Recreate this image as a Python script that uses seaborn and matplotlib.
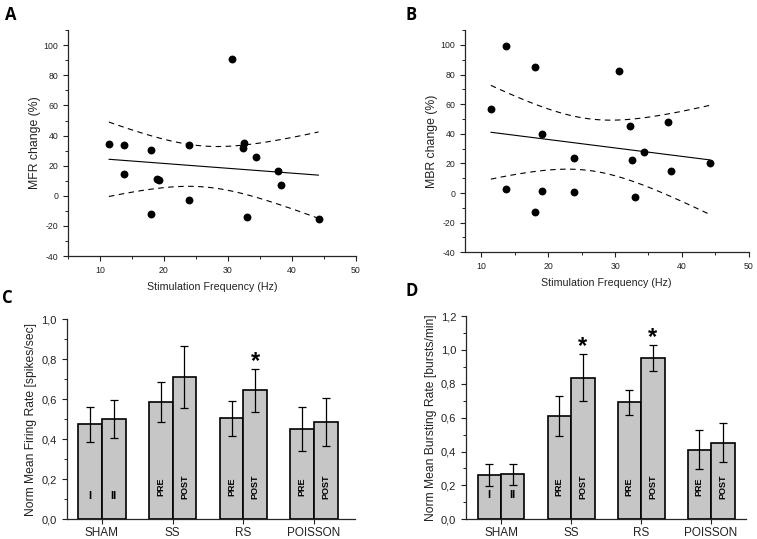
import numpy as np
import pandas as pd
import matplotlib
matplotlib.use("Agg")
import matplotlib.pyplot as plt
from matplotlib.ticker import MultipleLocator, FuncFormatter
import seaborn as sns

# ---------------- data ----------------
freq_a = [11.4, 13.7, 13.7, 18.0, 18.0, 19.0, 19.2, 24.0, 24.0, 30.7, 32.4, 32.6, 33.0, 34.4, 37.9, 38.4, 44.2]
mfr_change = [34.4, 34.0, 14.7, 30.4, -12.3, 10.9, 10.3, 34.0, -3.0, 90.9, 32.0, 35.3, -14.3, 26.0, 16.7, 7.2, -15.4]

freq_b = [11.4, 13.6, 13.6, 18.0, 18.0, 19.0, 19.1, 23.9, 23.9, 30.6, 32.3, 32.6, 33.0, 34.4, 37.9, 38.4, 44.2]
mbr_change = [56.6, 99.3, 2.8, 84.9, -13.0, 40.1, 1.4, 23.9, 0.5, 82.7, 45.5, 22.6, -2.9, 27.5, 48.2, 15.1, 20.3]

groups = ["SHAM", "SS", "RS", "POISSON"]
inner_first = ["I", "PRE", "PRE", "PRE"]
inner_second = ["II", "POST", "POST", "POST"]

mfr_first = [0.474, 0.587, 0.504, 0.451]
mfr_second = [0.501, 0.710, 0.644, 0.488]
mfr_first_err = [0.087, 0.101, 0.087, 0.112]
mfr_second_err = [0.094, 0.155, 0.109, 0.120]
mfr_star = [False, False, True, False]

mbr_first = [0.262, 0.610, 0.690, 0.412]
mbr_second = [0.266, 0.836, 0.951, 0.453]
mbr_first_err = [0.063, 0.117, 0.074, 0.114]
mbr_second_err = [0.063, 0.139, 0.077, 0.113]
mbr_star = [False, True, True, False]

# ---------------- style ----------------
sns.set_style("ticks")
plt.rcParams["font.family"] = ["Liberation Sans", "DejaVu Sans"]
plt.rcParams["axes.linewidth"] = 0.9
plt.rcParams["axes.unicode_minus"] = False
plt.rcParams["xtick.direction"] = "out"
plt.rcParams["ytick.direction"] = "out"

TXT = "#222222"
fig = plt.figure(figsize=(7.57, 5.39), dpi=100)

comma = FuncFormatter(lambda v, p: f"{v:.1f}".replace(".", ","))


def style_axes(ax, tick_fs):
    sns.despine(ax=ax)
    ax.tick_params(which="major", length=3.5, width=0.8, labelsize=tick_fs,
                   colors="#222222", labelcolor=TXT)
    ax.tick_params(which="minor", length=2, width=0.7, colors="#222222")


def scatter_panel(ax, x, y, ylabel, xlim):
    df = pd.DataFrame({"x": x, "y": y})
    sns.scatterplot(data=df, x="x", y="y", ax=ax, color="black", s=32,
                    edgecolor="black", linewidth=0, zorder=3)
    # linear fit with 95% confidence band
    xa, ya = np.asarray(x), np.asarray(y)
    n = len(xa)
    b, a = np.polyfit(xa, ya, 1)
    xs = np.linspace(xa.min(), xa.max(), 100)
    yhat = a + b * xs
    resid = ya - (a + b * xa)
    s = np.sqrt(np.sum(resid ** 2) / (n - 2))
    sxx = np.sum((xa - xa.mean()) ** 2)
    tval = 2.131
    half = tval * s * np.sqrt(1.0 / n + (xs - xa.mean()) ** 2 / sxx)
    fit = pd.DataFrame({"x": xs, "fit": yhat, "lo": yhat - half, "hi": yhat + half})
    sns.lineplot(data=fit, x="x", y="fit", ax=ax, color="black", lw=0.8)
    sns.lineplot(data=fit, x="x", y="lo", ax=ax, color="black", lw=0.8, linestyle=(0, (5, 4)))
    sns.lineplot(data=fit, x="x", y="hi", ax=ax, color="black", lw=0.8, linestyle=(0, (5, 4)))
    ax.set_xlim(*xlim)
    ax.set_ylim(-40, 110)
    ax.xaxis.set_major_locator(MultipleLocator(10))
    ax.xaxis.set_minor_locator(MultipleLocator(5))
    ax.yaxis.set_major_locator(MultipleLocator(20))
    ax.yaxis.set_minor_locator(MultipleLocator(10))
    ax.set_xlabel("Stimulation Frequency (Hz)", fontsize=7.7, color=TXT, labelpad=5)
    ax.set_ylabel(ylabel, fontsize=8.8, color=TXT, labelpad=2)
    style_axes(ax, 6.3)


def bar_panel(ax, first, second, ferr, serr, stars, ylabel, ylim, xlim):
    df = pd.DataFrame({
        "group": groups * 2,
        "phase": ["first"] * 4 + ["second"] * 4,
        "value": list(first) + list(second),
    })
    sns.barplot(data=df, x="group", y="value", hue="phase", order=groups,
                hue_order=["first", "second"], palette=["#c6c6c6", "#c6c6c6"],
                edgecolor="black", linewidth=1.2, width=0.67, errorbar=None,
                legend=False, ax=ax, saturation=1)
    errs = [ferr, serr]
    inner = [inner_first, inner_second]
    bar_conts = list(ax.containers)
    for k, cont in enumerate(bar_conts):
        for i, patch in enumerate(cont.patches):
            cx = patch.get_x() + patch.get_width() / 2
            h = patch.get_height()
            ax.errorbar(cx, h, yerr=errs[k][i], color="black", lw=0.9,
                        capsize=2.6, capthick=0.9, zorder=4)
            lab = inner[k][i]
            if len(lab) > 2:
                ax.text(cx, 0.162 * ylim[1], lab, rotation=90, ha="center", va="center",
                        fontsize=6.5, fontweight="bold", color="black")
            else:
                ax.text(cx, 0.117 * ylim[1], lab, ha="center", va="center",
                        fontsize=8, fontweight="bold", color="black")
            if k == 1 and stars[i]:
                ax.annotate("*", (cx, h + errs[k][i]), xytext=(0, -3),
                            textcoords="offset points", ha="center", va="bottom",
                            fontsize=17, fontweight="bold", color="black")
    ax.set_ylim(*ylim)
    ax.set_xlim(*xlim)
    ax.yaxis.set_major_locator(MultipleLocator(0.2))
    ax.yaxis.set_minor_locator(MultipleLocator(0.1))
    ax.yaxis.set_major_formatter(comma)
    ax.set_xlabel("")
    ax.set_ylabel(ylabel, fontsize=8.7, color=TXT, labelpad=3)
    style_axes(ax, 8)
    ax.tick_params(axis="x", labelsize=8.5, pad=2)


axA = fig.add_axes([0.0898, 0.525, 0.380, 0.419])
axB = fig.add_axes([0.614, 0.532, 0.375, 0.412])
axC = fig.add_axes([0.088, 0.0366, 0.381, 0.371])
axD = fig.add_axes([0.6156, 0.0366, 0.370, 0.377])

scatter_panel(axA, freq_a, mfr_change, "MFR change (%)", (5, 50))
scatter_panel(axB, freq_b, mbr_change, "MBR change (%)", (7.5, 50))
bar_panel(axC, mfr_first, mfr_second, mfr_first_err, mfr_second_err, mfr_star,
          "Norm Mean Firing Rate [spikes/sec]", (0, 1.0), (-0.5, 3.58))
bar_panel(axD, mbr_first, mbr_second, mbr_first_err, mbr_second_err, mbr_star,
          "Norm Mean Bursting Rate [bursts/min]", (0, 1.2), (-0.5, 3.5))

for lab, (x, y) in zip("ABCD", [(0.006, 0.988), (0.536, 0.988), (0.003, 0.464), (0.536, 0.477)]):
    fig.text(x, y, lab, fontsize=12, fontweight="bold", ha="left", va="top",
             family=["Open Sans", "DejaVu Sans"], color="black")

fig.savefig("out.png", dpi=100)
